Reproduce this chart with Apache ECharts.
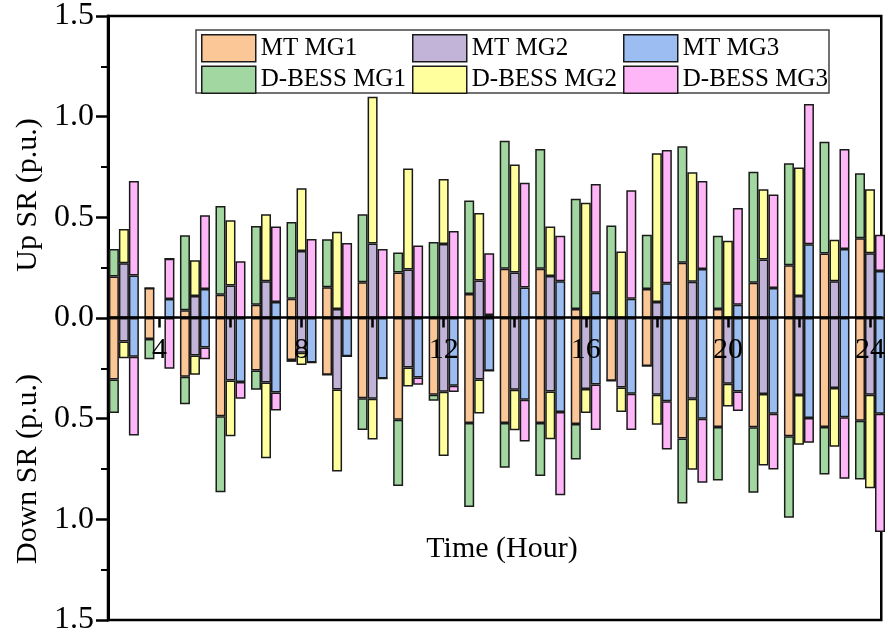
<!DOCTYPE html>
<html>
<head>
<meta charset="utf-8">
<script src="https://cdn.jsdelivr.net/npm/echarts@6/dist/echarts.min.js"></script>
<style>
  html, body { margin: 0; padding: 0; background: #fff; }
  #chart { width: 888px; height: 636px; }
</style>
</head>
<body>
<div id="chart"></div>
<script>
// ---- Data (hours 3..24; values in p.u.) ----
const hours = [3, 4, 5, 6, 7, 8, 9, 10, 11, 12, 13, 14, 15, 16, 17, 18, 19, 20, 21, 22, 23, 24];
const tickHours = [4, 6, 8, 10, 12, 14, 16, 18, 20, 22, 24];
const labelHours = [4, 8, 12, 16, 20, 24];
const yTickLabels = ['1.5', '1.0', '0.5', '0.0', '0.5', '1.0', '1.5'];

// Up reserve
const mtMG1Up    = [0.206, 0.149, 0.038, 0.116, 0.066, 0.096, 0.153, 0.178, 0.226, 0.000, 0.119, 0.244, 0.244, 0.045, 0.000, 0.144, 0.274, 0.045, 0.175, 0.262, 0.320, 0.396];
const bessMG1Up  = [0.137, 0.000, 0.373, 0.440, 0.391, 0.381, 0.238, 0.337, 0.099, 0.378, 0.465, 0.637, 0.596, 0.547, 0.460, 0.270, 0.579, 0.363, 0.551, 0.507, 0.556, 0.323];
const mtMG2Up    = [0.272, 0.000, 0.109, 0.162, 0.182, 0.333, 0.045, 0.370, 0.241, 0.368, 0.186, 0.226, 0.208, 0.000, 0.000, 0.079, 0.180, 0.000, 0.290, 0.109, 0.183, 0.322];
const bessMG2Up  = [0.170, 0.000, 0.178, 0.323, 0.333, 0.311, 0.384, 0.729, 0.502, 0.322, 0.335, 0.536, 0.247, 0.573, 0.330, 0.739, 0.544, 0.384, 0.349, 0.639, 0.206, 0.317];
const mtMG3Up    = [0.211, 0.094, 0.144, 0.000, 0.079, 0.000, 0.000, 0.000, 0.000, 0.000, 0.015, 0.152, 0.183, 0.125, 0.096, 0.173, 0.243, 0.066, 0.149, 0.366, 0.343, 0.233];
const bessMG3Up  = [0.469, 0.200, 0.366, 0.282, 0.376, 0.393, 0.373, 0.343, 0.360, 0.432, 0.307, 0.520, 0.225, 0.540, 0.538, 0.662, 0.437, 0.480, 0.465, 0.697, 0.497, 0.181];

// Down reserve (magnitudes)
const mtMG1Down   = [0.305, 0.104, 0.292, 0.488, 0.261, 0.208, 0.282, 0.398, 0.505, 0.381, 0.521, 0.521, 0.521, 0.526, 0.312, 0.239, 0.599, 0.541, 0.543, 0.587, 0.541, 0.510];
const bessMG1Down = [0.167, 0.101, 0.137, 0.378, 0.095, 0.010, 0.000, 0.158, 0.330, 0.030, 0.418, 0.223, 0.264, 0.177, 0.000, 0.000, 0.322, 0.266, 0.325, 0.405, 0.236, 0.292];
const mtMG2Down   = [0.117, 0.000, 0.186, 0.310, 0.320, 0.173, 0.355, 0.401, 0.246, 0.366, 0.305, 0.356, 0.365, 0.353, 0.345, 0.381, 0.401, 0.327, 0.378, 0.383, 0.348, 0.381];
const bessMG2Down = [0.083, 0.000, 0.096, 0.277, 0.376, 0.060, 0.407, 0.203, 0.094, 0.319, 0.169, 0.202, 0.237, 0.119, 0.122, 0.149, 0.353, 0.112, 0.355, 0.246, 0.292, 0.464];
const mtMG3Down   = [0.193, 0.000, 0.147, 0.318, 0.370, 0.221, 0.190, 0.300, 0.295, 0.337, 0.262, 0.406, 0.467, 0.330, 0.376, 0.414, 0.500, 0.365, 0.475, 0.497, 0.493, 0.475];
const bessMG3Down = [0.391, 0.252, 0.058, 0.083, 0.090, 0.000, 0.000, 0.000, 0.037, 0.031, 0.000, 0.208, 0.414, 0.226, 0.180, 0.239, 0.318, 0.097, 0.277, 0.123, 0.306, 0.588];

// ---- Styles ----
const FONT = '"Liberation Serif", "Times New Roman", serif';
const colors = {
  'MT MG1': '#FBC797', 'MT MG2': '#C2B3D8', 'MT MG3': '#9BBDF2',
  'D-BESS MG1': '#A3D7A1', 'D-BESS MG2': '#FFFF9E', 'D-BESS MG3': '#FEB6F8'
};

// rows are [value, hour] so that the stacked dimension is the value one
function rows(vals, sign) {
  return hours.map((h, i) => [sign * vals[i], h]);
}
function barSeries(name, stack, vals, sign) {
  return {
    type: 'bar', name: name, stack: stack, stackStrategy: 'samesign',
    barWidth: 10, barGap: '0%',
    encode: { x: 1, y: 0 },
    data: rows(vals, sign),
    itemStyle: { color: colors[name], borderColor: '#1a1a1a', borderWidth: 1.5 },
    emphasis: { disabled: true },
    animation: false
  };
}

const series = [
  barSeries('MT MG1', 'mg1', mtMG1Up, 1),
  barSeries('D-BESS MG1', 'mg1', bessMG1Up, 1),
  barSeries('MT MG1', 'mg1', mtMG1Down, -1),
  barSeries('D-BESS MG1', 'mg1', bessMG1Down, -1),
  barSeries('MT MG2', 'mg2', mtMG2Up, 1),
  barSeries('D-BESS MG2', 'mg2', bessMG2Up, 1),
  barSeries('MT MG2', 'mg2', mtMG2Down, -1),
  barSeries('D-BESS MG2', 'mg2', bessMG2Down, -1),
  barSeries('MT MG3', 'mg3', mtMG3Up, 1),
  barSeries('D-BESS MG3', 'mg3', bessMG3Up, 1),
  barSeries('MT MG3', 'mg3', mtMG3Down, -1),
  barSeries('D-BESS MG3', 'mg3', bessMG3Down, -1)
];

function legendCol(names, left) {
  return {
    data: names, orient: 'vertical', left: left, top: 34, padding: 0,
    itemWidth: 54, itemHeight: 27, itemGap: 3, icon: 'rect',
    selectedMode: false, z: 6,
    itemStyle: { borderColor: '#1a1a1a', borderWidth: 1.5 },
    textStyle: { fontFamily: FONT, fontSize: 25, color: '#000', lineHeight: 27 }
  };
}

const GRID_TOP = 15, GRID_BOTTOM = 16, H = 636;
const zeroOffset = -((H - GRID_BOTTOM) - (GRID_TOP + (H - GRID_TOP - GRID_BOTTOM) / 2));

const chart = echarts.init(document.getElementById('chart'), null, { renderer: 'canvas' });
chart.setOption({
  animation: false,
  backgroundColor: '#fff',
  grid: {
    left: 108, right: -2, top: GRID_TOP, bottom: GRID_BOTTOM,
    show: true, borderColor: '#000', borderWidth: 2.5, backgroundColor: 'transparent'
  },
  legend: [
    legendCol(['MT MG1', 'D-BESS MG1'], 201),
    legendCol(['MT MG2', 'D-BESS MG2'], 412),
    legendCol(['MT MG3', 'D-BESS MG3'], 623)
  ],
  xAxis: {
    type: 'value', min: 2.5527, max: 24.317, z: 5,
    position: 'bottom', offset: zeroOffset,
    axisLine: { onZero: false, lineStyle: { color: '#000', width: 2.5 } },
    axisTick: { show: true, customValues: tickHours, length: 10, lineStyle: { color: '#000', width: 2.5 } },
    axisLabel: { customValues: labelHours, fontFamily: FONT, fontSize: 30, color: '#000', margin: 18 },
    splitLine: { show: false }
  },
  yAxis: {
    type: 'value', min: -1.5, max: 1.5, interval: 0.5,
    axisLine: { show: true, lineStyle: { color: '#000', width: 3 } },
    axisTick: { show: true, length: 12, lineStyle: { color: '#000', width: 2.5 } },
    minorTick: { show: true, splitNumber: 2, length: 7, lineStyle: { color: '#000', width: 2 } },
    minorSplitLine: { show: false },
    splitLine: { show: false },
    axisLabel: {
      fontFamily: FONT, fontSize: 32, color: '#000', margin: 14,
      formatter: function (v) { return yTickLabels[Math.round((1.5 - v) / 0.5)]; }
    }
  },
  graphic: [
    { type: 'rect', z: 3, shape: { x: 196, y: 30, width: 633, height: 63 },
      style: { fill: '#fff', stroke: '#444', lineWidth: 1.5 } },
    { type: 'text', x: 28, y: 195, rotation: Math.PI / 2,
      style: { text: 'Up SR (p.u.)', font: '30px ' + FONT, fill: '#000', align: 'center', verticalAlign: 'middle' } },
    { type: 'text', x: 28, y: 469, rotation: Math.PI / 2,
      style: { text: 'Down SR (p.u.)', font: '30px ' + FONT, fill: '#000', align: 'center', verticalAlign: 'middle' } },
    { type: 'text', x: 502, y: 549,
      style: { text: 'Time (Hour)', font: '30px ' + FONT, fill: '#000', align: 'center', verticalAlign: 'middle' } }
  ],
  series: series
});
</script>
</body>
</html>
